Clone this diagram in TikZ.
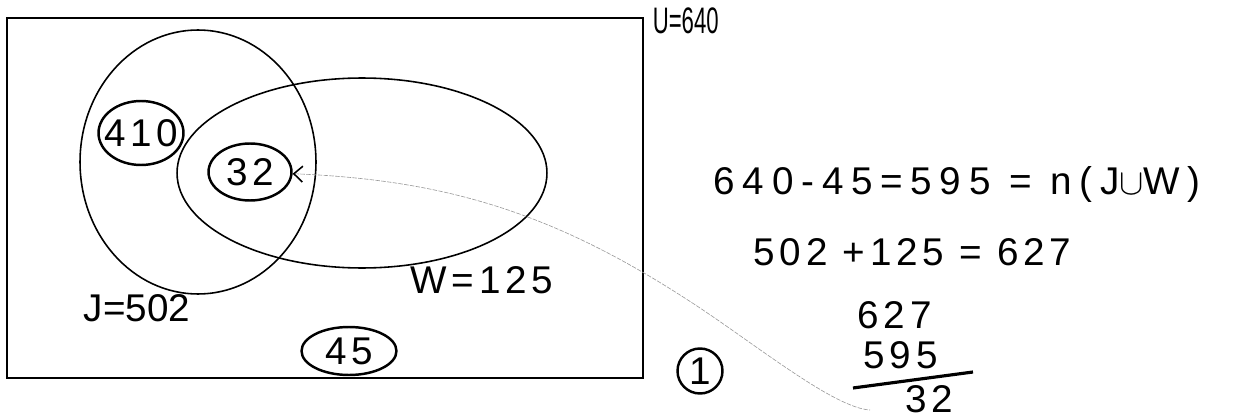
\documentclass[tikz,border=0pt]{standalone}
\usepackage{fontspec}
\setmainfont{Liberation Sans}
\newfontfamily\handfont[LetterSpace=12]{Liberation Sans}
\newfontfamily\widehand[LetterSpace=20]{Liberation Sans}
\usetikzlibrary{shapes.geometric, arrows.meta}
\begin{document}
\begin{tikzpicture}[x=0.02cm, y=-0.02cm, line width=0.9pt,
    font=\handfont\fontsize{22}{26}\selectfont,
    ringed/.style={draw, ellipse, line width=1.4pt, inner sep=0pt},
    setshape/.style={draw, ellipse, inner sep=0pt},
    written/.style={inner sep=0pt, anchor=west},
    pointer/.style={black!40, line width=0.35pt, dash pattern=on 2.5pt off 0.8pt,
      {Straight Barb[black, length=5pt, width=9pt, line width=0.9pt]}-}]
  \useasboundingbox (0,0) rectangle (1245,419);
  \node[draw, line width=0.8pt, minimum width=12.72cm, minimum height=7.2cm, inner sep=0pt] (univ) at (325,198) {};
  \node[written, font=\rmfamily\fontsize{21}{24}\selectfont] (ulab) at (652,21) {\scalebox{0.6}[1]{U=640}};
  \node[setshape, minimum width=4.72cm, minimum height=5.28cm] (setJ) at (198,162) {};
  \node[setshape, minimum width=7.4cm, minimum height=3.8cm] (setW) at (362,173) {};
  \node[written, font=\rmfamily\fontsize{22}{26}\selectfont] (labJ) at (83,308) {J=502};
  \node[written] (labW) at (410,280) {W=125};

  \foreach \nm/\xc/\yc/\rw/\rh/\tx in {r410/141/133/1.7/1.28/410, r32/250/172/1.66/1.14/32,
                                       r45/349/351/1.9/0.96/45, one/700/371/0.9/0.9/1} {
    \node[ringed, minimum width=\rw cm, minimum height=\rh cm] (\nm) at (\xc,\yc) {\makebox[0pt]{\tx}};
  }

  \node[written, font=\widehand\fontsize{22}{26}\selectfont] (calcA) at (713,184) {640-45=595 = n(J$\cup$W)};
  \foreach \nm/\xl/\yl/\tx in {calcB/753/252/{502 +125 = 627}, calcC/857/315/{627},
                               calcD/863/355/{595}, calcE/905/399/{32}} {
    \node[written] (\nm) at (\xl,\yl) {\tx};
  }
  \draw[line width=1.8pt] (853,388) -- (973,372);

  \coordinate (tail) at (870,410);
  \draw[pointer] (r32) .. controls (450,180) and (560,215) .. (700,308)
    .. controls (760,348) and (835,408) .. (tail);
\end{tikzpicture}
\end{document}
